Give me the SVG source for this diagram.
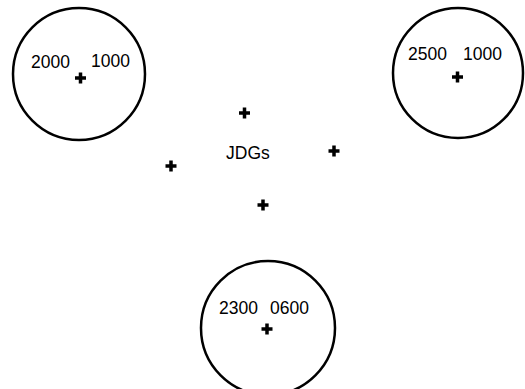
<svg xmlns="http://www.w3.org/2000/svg" width="525" height="389" viewBox="0 0 525 389">
<defs>
<style>
.c{fill:none;stroke:#000;stroke-width:2.5}
.t{font-family:"Liberation Sans",Arial,sans-serif;font-size:17.5px;fill:#000}
.p{stroke:#000;stroke-width:3.5;fill:none}
</style>
<path id="plus" class="p" d="M-5.5,0H5.5M0,-5.5V5.5"/>
</defs>
<rect width="525" height="389" fill="#fff"/>
<g id="zone-2000">
<circle class="c" cx="79" cy="74" r="66"/>
<text class="t" x="31" y="67.5">2000</text>
<text class="t" x="91" y="66.5">1000</text>
<use href="#plus" x="80.5" y="78"/>
</g>
<g id="zone-2500">
<circle class="c" cx="458" cy="73" r="65"/>
<text class="t" x="408" y="59.5">2500</text>
<text class="t" x="463" y="59.5">1000</text>
<use href="#plus" x="457.5" y="77"/>
</g>
<g id="zone-2300">
<circle class="c" cx="268" cy="328" r="67"/>
<text class="t" x="219" y="313.5">2300</text>
<text class="t" x="270" y="313.5">0600</text>
<use href="#plus" x="267" y="329"/>
</g>
<g id="jdgs">
<text class="t" x="226" y="158.5">JDGs</text>
<use href="#plus" x="244.5" y="113"/>
<use href="#plus" x="334" y="151"/>
<use href="#plus" x="171" y="166"/>
<use href="#plus" x="263" y="205"/>
</g>
<g id="connectors"/>
</svg>
